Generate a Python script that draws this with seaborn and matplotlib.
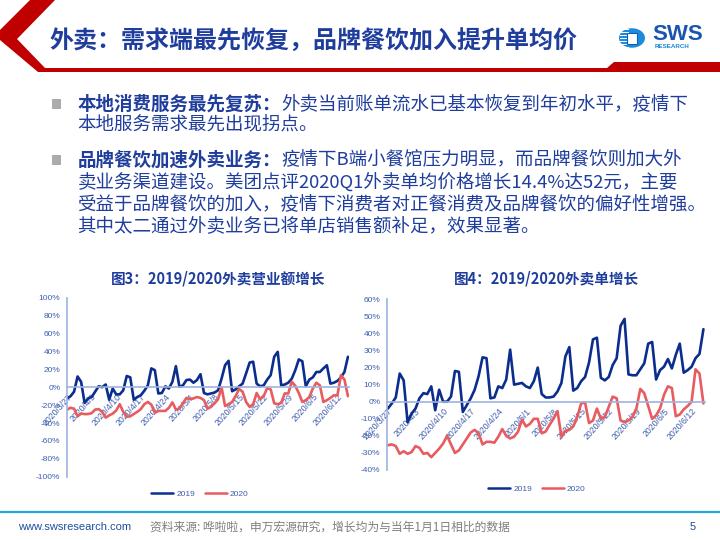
import matplotlib
matplotlib.use("Agg")
import matplotlib.pyplot as plt
from matplotlib.patches import Polygon, Rectangle, Circle
import seaborn as sns
import pandas as pd
import numpy as np

# ---------------- data ----------------
start_date = "2020-03-27"
tick_labels = ["2020/3/27", "2020/4/3", "2020/4/10", "2020/4/17", "2020/4/24", "2020/5/1",
               "2020/5/8", "2020/5/15", "2020/5/22", "2020/5/29", "2020/6/5", "2020/6/12"]
series_names = ["2019", "2020"]

# Fig.3 2019/2020 外卖营业额增长 (%)
rev_2019 = [-12.7, -10, -5, 12, 6, -17.5, -12.7, -11, -5, 1, 0, 3, -14, -1.5, -8, -8, -3.5,
            12.5, 11, -14, -11, -9, -4, 2, 21, 19, -7, -6.5, 1, -1.5, 6, 23.5, 0.5, 2, 8, 8.5,
            5, 8, 14.5, -6.5, -8, -7, -6, -3.5, 9.5, 24.5, 29.5, -4.5, -2.5, 1, 4, 15.5, 27.5,
            28.5, 4, 1, 2, 8.5, 13.5, 34, 39.5, 2, 3, 5, 9.5, 19, 31, 29, 1, 8.5, 11, 17, 17,
            21, 24.5, 4, 5, 7, 11, 17, 34]
rev_2020 = [-25, -23, -24, -32.5, -29.5, -30, -30, -29, -25, -24.5, -27.5, -34, -31.5, -29.5,
            -26, -19, -27.5, -33, -32.5, -30, -27.5, -24.5, -19, -16.5, -19.5, -28.5, -26.5,
            -26.5, -26.5, -23, -17, -25, -24, -18, -12, -13.5, -12.5, -11, -12, -14.5, -24, -22,
            -18, -13.5, 0, -21, -19, -16.5, -10, -2, -5, -16.5, -22, -19, -6.5, -13.5, -10, -1,
            -2.5, -18, -19, -17.5, -7, -7, 6, 1.5, -6.5, -16.5, -14.5, -11, -1.5, 5, 2, -16.5,
            -14.5, -12, -9, -9, 13.5, 8.5, -10]

# Fig.4 2019/2020 外卖单增长 (%)
ord_2019 = [-4, -1, 2.5, 16.5, 12.5, -12, -7, -4, 2, 5, 4.5, 9, -5, 7, 0, 0, 3, 18, 17.5, -6,
            -2, 2, 7, 15, 26, 25.5, 2, 2.5, 9, 8, 13, 30.5, 10, 10.5, 11, 9, 8, 12, 20, 4.5, 2.5,
            2.5, 3, 6, 11, 26.5, 32, 6.5, 8, 12, 14.5, 23, 36.5, 37.5, 14, 12.5, 14.5, 21.5, 25.5,
            44.5, 48.5, 16, 15.5, 15.5, 19, 22.5, 34, 35, 13, 18.5, 20.5, 25, 19.5, 27.5, 34, 17,
            18.5, 20.5, 25.5, 28, 42.5]
ord_2020 = [-25.5, -25, -26, -30.5, -29, -30.5, -29.5, -26, -27, -30.5, -30, -32.5, -30, -27.5,
            -24.5, -20, -25, -30, -28.5, -25, -21.5, -18, -16.5, -18.5, -25, -23.5, -23.5, -24,
            -20.5, -16, -20, -21.5, -20.5, -17.5, -10.5, -14.5, -13, -10, -10, -18.5, -17.5,
            -13.5, -10, -5.5, -20.5, -17, -16.5, -14.5, -9, -1, -0.5, -12.5, -11, -4, -10, -9,
            -3, 3, 2, -11, -12, -11, -9, -4, 7.5, 5, -2.5, -10, -8, -4, 4, 9, 8, -8.5, -7.5,
            -4.5, -2.5, 0, 19, 16.5, -1]

# ---------------- style ----------------
BLUE = "#0B2D8E"
RED = "#E85B5E"
TXT = "#1F3D9C"
AX = "#9DB3E0"
TICK = "#3D5DAE"
CJK = ["Noto Sans CJK SC", "DejaVu Sans"]
LAT = ["Liberation Sans", "Noto Sans CJK SC", "DejaVu Sans"]

sns.set_style("white")
plt.rcParams["font.family"] = LAT

W, H = 720, 540
fig = plt.figure(figsize=(7.2, 5.4), dpi=100)
fig.patch.set_facecolor("white")


def fx(x):
    return x / W


def fy(y):
    return 1 - y / H


def fpoly(pts, **kw):
    return Polygon([(fx(x), fy(y)) for x, y in pts], closed=True,
                   transform=fig.transFigure, **kw)


# ---------------- header ----------------
fig.patches.append(fpoly([(30, 0), (55, 0), (17, 39), (45, 68), (607, 68), (614, 62), (720, 62),
                          (720, 72), (38, 72), (0, 40), (0, 30)],
                         facecolor="#C00000", edgecolor="none"))
fig.text(fx(50), fy(41), "外卖：需求端最先恢复，品牌餐饮加入提升单均价", family=CJK,
         fontsize=17.3, fontweight="bold", color=TXT, va="center", ha="left")

# logo
fig.patches.append(Circle((fx(632), fy(38)), 13 / W, transform=fig.transFigure,
                          facecolor="#1C8BDB", edgecolor="none"))
for yy in range(29, 49, 3):
    fig.patches.append(Rectangle((fx(620), fy(yy + 1.2)), 9 / W, 1.2 / H,
                                 transform=fig.transFigure, facecolor="white",
                                 edgecolor="none"))
fig.patches.append(Rectangle((fx(627), fy(44)), 10 / W, 11 / H, transform=fig.transFigure,
                             facecolor="white", edgecolor="#0F5FB0", lw=0.8))
fig.text(fx(652), fy(35), "SWS", fontsize=16, fontweight="bold", color="#1A56B0",
         va="center", ha="left", family=LAT)
fig.text(fx(655), fy(46.5), "RESEARCH", fontsize=4.5, fontweight="bold", color="#1A86D0",
         va="center", ha="left", family=LAT)

# ---------------- bullet text ----------------
FS = 13.3
x0 = 77.5
bold_w = 11 * 18.5
for yy in (104, 160):
    fig.patches.append(Rectangle((fx(52), fy(yy + 4.5)), 9.5 / W, 9 / H,
                                 transform=fig.transFigure, facecolor="#ABABAB",
                                 edgecolor="none"))

fig.text(fx(x0), fy(104), "本地消费服务最先复苏：", family=CJK, fontsize=FS, fontweight="bold",
         color=TXT, va="center")
fig.text(fx(x0 + bold_w), fy(104), "外卖当前账单流水已基本恢复到年初水平，疫情下", family=CJK,
         fontsize=FS, color=TXT, va="center")
fig.text(fx(x0), fy(125), "本地服务需求最先出现拐点。", family=CJK, fontsize=FS, color=TXT,
         va="center")

fig.text(fx(x0), fy(160), "品牌餐饮加速外卖业务：", family=CJK, fontsize=FS, fontweight="bold",
         color=TXT, va="center")
fig.text(fx(x0 + bold_w), fy(160), "疫情下B端小餐馆压力明显，而品牌餐饮则加大外", family=CJK,
         fontsize=FS, color=TXT, va="center")
body = ["卖业务渠道建设。美团点评2020Q1外卖单均价格增长14.4%达52元，主要",
        "受益于品牌餐饮的加入，疫情下消费者对正餐消费及品牌餐饮的偏好性增强。",
        "其中太二通过外卖业务已将单店销售额补足，效果显著。"]
for i, line in enumerate(body):
    fig.text(fx(x0), fy(183 + 22 * i), line, family=CJK, fontsize=FS, color=TXT, va="center")


# ---------------- charts ----------------
def make_chart(left, right, top, bottom, v19, v20, ylim, ystep, xlim, title, title_x,
               leg_xy):
    ax = fig.add_axes([fx(left), fy(bottom), (right - left) / W, (bottom - top) / H])
    n = len(v19)
    days = list(range(n)) * 2
    df = pd.DataFrame({"day": days, "growth": list(v19) + list(v20),
                       "year": [series_names[0]] * n + [series_names[1]] * n})
    sns.lineplot(data=df, x="day", y="growth", hue="year", palette=[BLUE, RED], ax=ax,
                 linewidth=1.9, legend=True)
    ax.set_xlim(*xlim)
    ax.set_ylim(*ylim)
    ax.set_xlabel("")
    ax.set_ylabel("")
    for s in ("top", "right"):
        ax.spines[s].set_visible(False)
    ax.spines["bottom"].set_position(("data", 0))
    for s in ("left", "bottom"):
        ax.spines[s].set_color(AX)
        ax.spines[s].set_linewidth(1.2)
    ax.tick_params(axis="both", colors=AX, labelcolor=TICK, labelsize=6, length=2.5,
                   width=0.8, direction="out", pad=2)
    ax.tick_params(axis="x", pad=1, labelsize=6.3)
    yt = np.arange(ylim[0], ylim[1] + 0.1, ystep)
    ax.set_yticks(yt)
    ax.set_yticklabels([f"{int(v)}%" for v in yt])
    dates = pd.date_range(start_date, periods=n, freq="D")
    tpos = [i for i, d in enumerate(dates) if i % 7 == 0][:len(tick_labels)]
    ax.set_xticks(tpos)
    ax.set_xticklabels(tick_labels[:len(tpos)])
    for lab in ax.get_xticklabels():
        lab.set_rotation(48)
        lab.set_ha("right")
        lab.set_va("top")
        lab.set_rotation_mode("anchor")
    ax.set_facecolor("none")
    ax.grid(False)
    sns.move_legend(ax, "center", bbox_to_anchor=leg_xy, bbox_transform=fig.transFigure,
                    ncol=2, frameon=False, title=None, fontsize=6, handlelength=2.6,
                    columnspacing=1.2, handletextpad=0.4, labelcolor=TICK)
    for l in ax.get_legend().get_lines():
        l.set_linewidth(1.8)
    fig.text(fx(title_x), fy(279), title, family=CJK, fontsize=10.5, fontweight="bold",
             color=TXT, ha="center", va="center")
    return ax


make_chart(66.7, 349, 297.7, 476.7, rev_2019, rev_2020, (-100, 100), 20, (-0.1, 80.3),
           "图3：2019/2020外卖营业额增长", 218, (fx(200), fy(494)))
make_chart(386.7, 705, 299.3, 470, ord_2019, ord_2020, (-40, 60), 10, (-0.3, 80.4),
           "图4：2019/2020外卖单增长", 546, (fx(537), fy(489)))

# ---------------- footer ----------------
fig.lines.append(plt.Line2D([0, 1], [fy(512), fy(512)], transform=fig.transFigure,
                            color="#2AA5DC", lw=1.6))
fig.text(fx(18), fy(527), "www.swsresearch.com", fontsize=8, color="#1F4E9E", va="center",
         family=LAT)
fig.text(fx(150), fy(527), "资料来源: 哗啦啦，申万宏源研究，增长均为与当年1月1日相比的数据",
         family=CJK, fontsize=8.5, color="#7F7F7F", va="center")
fig.text(fx(690), fy(527), "5", fontsize=8, color="#1F4E9E", va="center", family=LAT)

fig.savefig("out.png", dpi=100, facecolor="white")
